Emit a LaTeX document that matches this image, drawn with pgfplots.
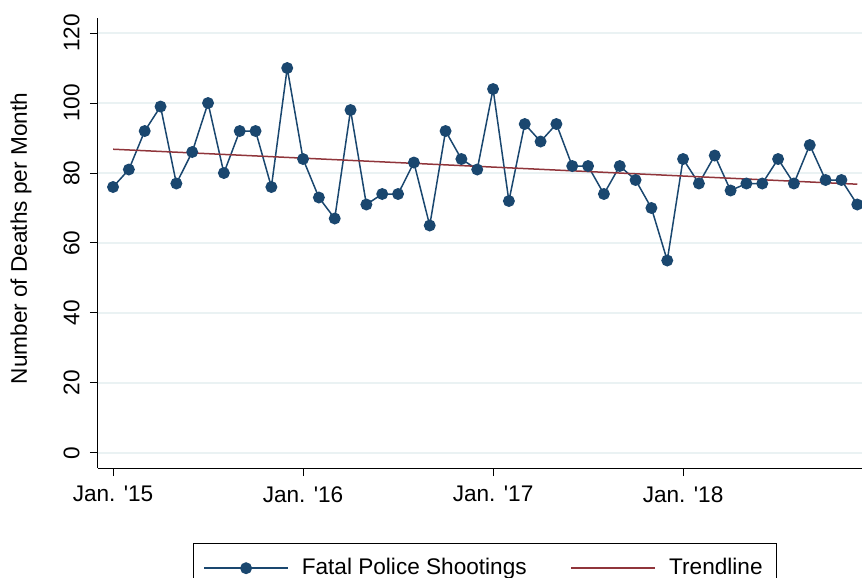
\documentclass[border=0pt]{standalone}
\usepackage{fontspec}
\setmainfont{Liberation Sans}
\usepackage{pgfplots}
\usepackage{pgfplotstable}
\pgfplotsset{compat=1.18}
\definecolor{stnavy}{HTML}{1A476F}
\definecolor{stmaroon}{HTML}{90353B}
\definecolor{stgrid}{HTML}{EAF2F3}
\newcommand{\fs}{\fontsize{11.3pt}{13pt}\selectfont}
\pgfplotstableread{
m v
0 76
1 81
2 92
3 99
4 77
5 86
6 100
7 80
8 92
9 92
10 76
11 110
12 84
13 73
14 67
15 98
16 71
17 74
18 74
19 83
20 65
21 92
22 84
23 81
24 104
25 72
26 94
27 89
28 94
29 82
30 82
31 74
32 82
33 78
34 70
35 55
36 84
37 77
38 85
39 75
40 77
41 77
42 84
43 77
44 88
45 78
46 78
47 71
}\deaths
\pgfplotstableread{
m v
0 86.8
47 76.8
}\trend
\begin{document}
\begin{tikzpicture}
\path[use as bounding box] (-49pt,-55pt) rectangle (382pt,234pt);
\begin{axis}[
  at={(0,0)}, anchor=south west,
  scale only axis, width=382pt, height=225pt,
  xmin=-0.95, xmax=47.3, ymin=-4.3, ymax=124.3,
  axis lines*=left,
  axis line style={black, line width=0.5pt},
  tick align=outside, major tick length=4pt,
  tick style={black, line width=0.5pt},
  xtick={0,12,24,36},
  xticklabels={Jan. \textquotesingle15, Jan. \textquotesingle16, Jan. \textquotesingle17, Jan. \textquotesingle18},
  ytick={0,20,...,120},
  ymajorgrids, major grid style={stgrid, line width=0.75pt},
  /pgf/number format/assume math mode=true,
  xticklabel style={font=\fs, anchor=north, inner sep=0pt},
  yticklabel style={font=\fs, rotate=90, anchor=south, inner sep=0pt},
  xticklabel shift=5pt, yticklabel shift=5pt,
  ylabel={Number of Deaths per Month},
  ylabel style={font=\fs, at={(axis description cs:-0.093,0.51)}, anchor=base, rotate=0, inner sep=0pt},
  clip=false,
  legend columns=2,
  legend style={font=\fs, at={(axis description cs:0.5065,-0.1667)}, anchor=north,
    draw=black, line width=0.5pt, inner xsep=5pt, inner ysep=5.5pt,
    /tikz/every odd column/.append style={column sep=4.5pt},
    /tikz/every even column/.append style={column sep=20pt}},
  legend cell align=left,
  legend image code/.code={\draw[mark repeat=2,mark phase=2,#1] plot coordinates {(0pt,0pt) (21pt,0pt) (42pt,0pt)};},
]
\addplot[stnavy, line width=0.75pt, mark=*, mark size=2.6pt, mark options={fill=stnavy, draw=stnavy}] table[x=m, y=v] {\deaths};
\addlegendentry{Fatal Police Shootings}
\addplot[stmaroon, line width=0.75pt, mark=none] table[x=m, y=v] {\trend};
\addlegendentry{Trendline}
\end{axis}
\end{tikzpicture}
\end{document}
